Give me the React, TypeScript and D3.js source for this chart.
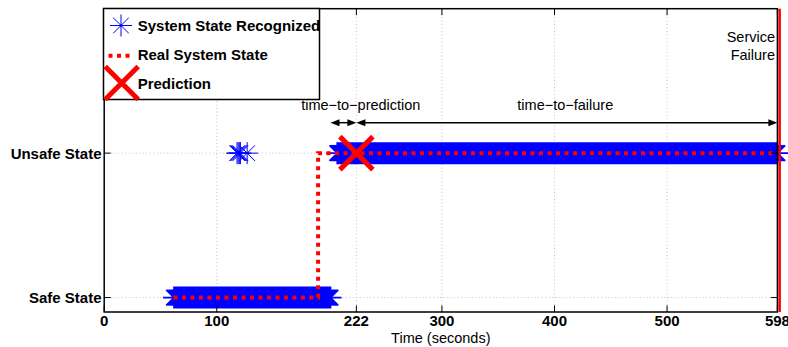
import React from 'react';
import * as d3 from 'd3';

// ---- data ----
const xTickValues = [0, 100, 224, 300, 400, 500, 598];
const xTickLabels = ['0', '100', '222', '300', '400', '500', '598'];
const yTickValues = [0, 1];
const yTickLabels = ['Safe State', 'Unsafe State'];

// recognized system state: dense runs (one sample per second) plus isolated samples
const recognizedRunStart = [62, 207];
const recognizedRunEnd = [201, 598];
const recognizedRunState = [0, 1];
const recognizedSingleTimes = [118, 119, 120, 121, 127];
const recognizedSingleStates = [1, 1, 1, 1, 1];

const realStateTimes = [61.5, 190, 190, 598];
const realStateValues = [0, 0, 1, 1];

const predictionTime = 224;
const predictionState = 1;
const failureTime = 600;
const annotationTimes = [201, 224, 598];
const annotationLabels = ['time\u2212to\u2212prediction', 'time\u2212to\u2212failure'];

const FONT = '"Liberation Sans", Arial, Helvetica, sans-serif';

function asterisk(cx: number, cy: number, r: number) {
  const d = r * 0.7071;
  return `M${cx - r},${cy}H${cx + r}M${cx},${cy - r}V${cy + r}M${cx - d},${cy - d}L${cx + d},${cy + d}M${cx - d},${cy + d}L${cx + d},${cy - d}`;
}
function cross(cx: number, cy: number, r: number) {
  return `M${cx - r},${cy - r}L${cx + r},${cy + r}M${cx - r},${cy + r}L${cx + r},${cy - r}`;
}

export default function App() {
  const W = 788, H = 347;
  const x = d3.scaleLinear().domain([0, 598]).range([104.2, 777.4]);
  const y = d3.scaleLinear().domain([-0.1, 2]).range([312, 8.7]);
  const [x0, x1] = x.range();
  const [yb, yt] = y.range();

  // asterisk markers
  let ast = '';
  recognizedRunStart.forEach((s, i) => {
    d3.range(s, recognizedRunEnd[i] + 0.001, 1).forEach((t) => {
      ast += asterisk(x(t), y(recognizedRunState[i]), 11);
    });
  });
  let single = '';
  recognizedSingleTimes.forEach((t, i) => {
    single += asterisk(x(t), y(recognizedSingleStates[i]), 11);
  });

  const realLine = d3
    .line<number>()
    .x((_, i) => x(realStateTimes[i]))
    .y((v) => y(v))(realStateValues) as string;

  const arrowY = 122.7;
  const head = (tipX: number, dir: number) =>
    `M${tipX},${arrowY}L${tipX - dir * 9},${arrowY - 3.5}L${tipX - dir * 9},${arrowY + 3.5}Z`;

  const gridX = xTickValues.filter((v) => v > 0 && v < 598);

  return (
    <svg
      width={W}
      height={H}
      style={{ position: 'fixed', left: 0, top: 0, background: '#fff' }}
      fontFamily={FONT}
    >
      <rect x={0} y={0} width={W} height={H} fill="#fff" />
      {/* grid */}
      <g stroke="#b5b5b5" strokeWidth={0.8} strokeDasharray="1 2.5">
        {gridX.map((v) => (
          <line key={'gx' + v} x1={x(v)} x2={x(v)} y1={yb} y2={yt} />
        ))}
        {yTickValues.map((v) => (
          <line key={'gy' + v} x1={x0} x2={x1} y1={y(v)} y2={y(v)} />
        ))}
      </g>

      {/* recognized */}
      <path d={ast} stroke="#0000ff" strokeWidth={1.7} fill="none" />
      <path d={single} stroke="#0000ff" strokeWidth={1} fill="none" />

      {/* real state */}
      <path d={realLine} stroke="#ff0000" strokeWidth={4} strokeDasharray="4 4.5" fill="none" />

      {/* prediction */}
      <path
        d={cross(x(predictionTime), y(predictionState), 16.5)}
        stroke="#ff0000"
        strokeWidth={5}
        fill="none"
      />

      {/* failure line */}
      <line x1={x(failureTime)} x2={x(failureTime)} y1={yb} y2={yt} stroke="#ff0000" strokeWidth={2.5} />

      {/* axes box */}
      <rect x={x0} y={yt} width={x1 - x0} height={yb - yt} fill="none" stroke="#000" strokeWidth={1.5} />
      <g stroke="#000" strokeWidth={1}>
        {xTickValues.map((v) => (
          <g key={'tx' + v}>
            <line x1={x(v)} x2={x(v)} y1={yb} y2={yb - 6.5} />
            <line x1={x(v)} x2={x(v)} y1={yt} y2={yt + 6.5} />
          </g>
        ))}
        {yTickValues.map((v) => (
          <g key={'ty' + v}>
            <line x1={x0} x2={x0 + 6.5} y1={y(v)} y2={y(v)} />
            <line x1={x1} x2={x1 - 6.5} y1={y(v)} y2={y(v)} />
          </g>
        ))}
      </g>
      <g fontWeight="bold" fontSize={15} fill="#000">
        {xTickValues.map((v, i) => (
          <text key={'lx' + v} x={x(v)} y={325.5} textAnchor="middle">
            {xTickLabels[i]}
          </text>
        ))}
        {yTickValues.map((v, i) => (
          <text key={'ly' + v} x={101.5} y={y(v) + 5.4} textAnchor="end">
            {yTickLabels[i]}
          </text>
        ))}
      </g>
      <text x={(x0 + x1) / 2} y={343} textAnchor="middle" fontSize={14.5}>
        Time (seconds)
      </text>

      {/* annotations */}
      <g stroke="#000" strokeWidth={1.5}>
        <line x1={x(annotationTimes[0]) + 4} x2={x(annotationTimes[1]) - 4} y1={arrowY} y2={arrowY} />
        <line x1={x(annotationTimes[1]) + 4} x2={x(annotationTimes[2]) - 4} y1={arrowY} y2={arrowY} />
      </g>
      <g fill="#000">
        <path d={head(x(annotationTimes[0]), -1)} />
        <path d={head(x(annotationTimes[1]), 1)} />
        <path d={head(x(annotationTimes[1]), -1)} />
        <path d={head(x(annotationTimes[2]), 1)} />
      </g>
      <text x={360.8} y={110} textAnchor="middle" fontSize={14.5}>
        {annotationLabels[0]}
      </text>
      <text x={565.3} y={110} textAnchor="middle" fontSize={14.5}>
        {annotationLabels[1]}
      </text>
      <text x={775} y={41.7} textAnchor="end" fontSize={14.5}>
        Service
      </text>
      <text x={775} y={60} textAnchor="end" fontSize={14.5}>
        Failure
      </text>

      {/* legend */}
      <rect x={103.5} y={8.5} width={216} height={91} fill="#fff" stroke="#000" strokeWidth={1.5} />
      <path d={asterisk(121, 25.5, 11)} stroke="#0000ff" strokeWidth={1} fill="none" />
      <circle cx={121} cy={25.5} r={1.3} fill="#0000ff" />
      <line x1={108.5} x2={134} y1={55.7} y2={55.7} stroke="#ff0000" strokeWidth={4} strokeDasharray="4 4.5" />
      <path d={cross(121.7, 83, 16.5)} stroke="#ff0000" strokeWidth={5} fill="none" />
      <g fontWeight="bold" fontSize={15} fill="#000">
        <text x={137.7} y={30.5}>System State Recognized</text>
        <text x={137.7} y={60}>Real System State</text>
        <text x={137.7} y={88.5}>Prediction</text>
      </g>
    </svg>
  );
}
